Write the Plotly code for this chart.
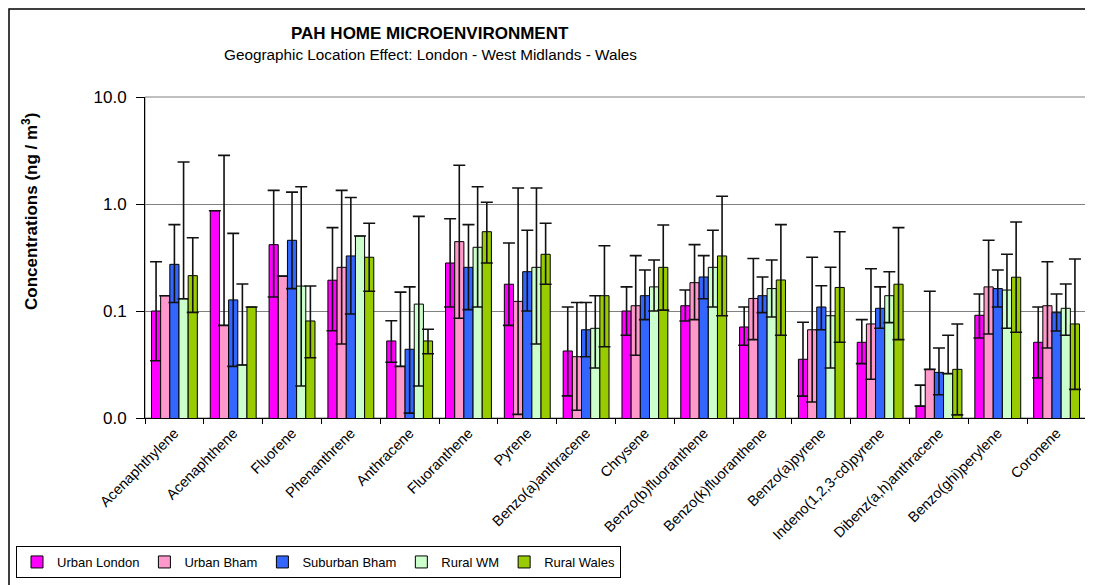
import plotly.graph_objects as go

categories = [
    "Acenaphthylene", "Acenaphthene", "Fluorene", "Phenanthrene", "Anthracene",
    "Fluoranthene", "Pyrene", "Benzo(a)anthracene", "Chrysene",
    "Benzo(b)fluoranthene", "Benzo(k)fluoranthene", "Benzo(a)pyrene",
    "Indeno(1,2,3-cd)pyrene", "Dibenz(a,h)anthracene", "Benzo(ghi)perylene",
    "Coronene",
]

# mean concentrations and the upper/lower ends of the error bars (None = no bar drawn)
urban_london = [0.100, 0.866, 0.417, 0.194, 0.0525, 0.281, 0.178, 0.0423, 0.100, 0.112, 0.0709, 0.0354, 0.051, 0.0129, 0.0912, 0.051]
urban_london_hi = [0.289, None, 1.34, 0.601, 0.0812, 0.729, 0.432, 0.109, 0.168, 0.157, 0.109, 0.0784, 0.083, 0.0203, 0.144, 0.109]
urban_london_lo = [0.0343, None, 0.135, 0.0654, 0.0332, 0.109, 0.0734, 0.0161, 0.0593, 0.0807, 0.0478, 0.016, 0.0322, None, 0.056, 0.0237]

urban_bham = [0.139, 0.0734, 0.212, 0.256, 0.0304, 0.445, 0.123, 0.0374, 0.112, 0.184, 0.131, 0.0668, 0.0757, 0.0285, 0.168, 0.112]
urban_bham_hi = [None, 2.85, None, 1.34, 0.150, 2.30, 1.41, 0.120, 0.329, 0.417, 0.309, 0.318, 0.248, 0.153, 0.458, 0.289]
urban_bham_lo = [None, None, None, 0.0492, None, 0.0855, 0.0108, 0.0118, 0.0386, 0.083, 0.054, 0.0141, 0.023, None, 0.061, 0.0451]

suburban_bham = [0.273, 0.127, 0.458, 0.327, 0.0439, 0.256, 0.233, 0.0668, 0.139, 0.208, 0.139, 0.109, 0.106, 0.0267, 0.162, 0.0965]
suburban_bham_hi = [0.641, 0.532, 1.29, 1.15, 0.168, 0.641, 0.568, 0.120, 0.242, 0.329, 0.208, 0.172, 0.168, 0.0451, 0.242, 0.144]
suburban_bham_lo = [0.120, 0.0304, 0.162, 0.0938, 0.0111, 0.103, 0.100, 0.0374, 0.083, 0.130, 0.0965, 0.0668, 0.0689, 0.0165, 0.109, 0.065]

rural_wm = [0.130, 0.0313, 0.171, 0.502, 0.116, 0.394, 0.256, 0.0689, 0.168, 0.256, 0.162, 0.0903, 0.139, 0.026, 0.157, 0.106]
rural_wm_hi = [2.47, 0.179, 1.45, None, 0.767, 1.45, 1.41, 0.139, 0.300, 0.568, 0.300, 0.256, 0.233, 0.0593, 0.339, 0.179]
rural_wm_lo = [None, None, 0.0199, None, 0.0199, 0.109, 0.0492, 0.0293, 0.100, 0.109, 0.0879, 0.0293, 0.0778, None, 0.0689, 0.0593]

rural_wales = [0.214, 0.109, 0.0807, 0.318, 0.0525, 0.551, 0.339, 0.139, 0.256, 0.327, 0.195, 0.166, 0.178, 0.0285, 0.207, 0.0757]
rural_wales_hi = [0.484, None, 0.171, 0.660, 0.0675, 1.04, 0.660, 0.407, 0.637, 1.18, 0.641, 0.551, 0.601, 0.0757, 0.679, 0.306]
rural_wales_lo = [0.097, None, 0.0366, 0.153, 0.0399, 0.281, 0.178, 0.0464, 0.102, 0.0903, 0.0593, 0.051, 0.054, 0.0107, 0.0633, 0.0185]

series = [
    ("Urban London", urban_london, urban_london_hi, urban_london_lo, "#FF00FF"),
    ("Urban Bham", urban_bham, urban_bham_hi, urban_bham_lo, "#FF99CC"),
    ("Suburban Bham", suburban_bham, suburban_bham_hi, suburban_bham_lo, "#3366FF"),
    ("Rural WM", rural_wm, rural_wm_hi, rural_wm_lo, "#CCFFCC"),
    ("Rural Wales", rural_wales, rural_wales_hi, rural_wales_lo, "#99CC00"),
]

FONT = "Arial, Liberation Sans, sans-serif"
W, H = 1093, 585
PAGE = 8  # default body margin of the html page
L, R, T, B = 145, 1086, 97, 418


def px_x(p):
    return (p - L) / (R - L)


def px_y(p):
    return (B - p) / (B - T)


fig = go.Figure()
for name, vals, hi, lo, color in series:
    up = [(h - v) if h is not None else 0 for v, h in zip(vals, hi)]
    down = [(v - l) if l is not None else 0 for v, l in zip(vals, lo)]
    fig.add_trace(
        go.Bar(
            name=name,
            x=categories,
            y=vals,
            marker=dict(color=color, line=dict(color="black", width=1)),
            error_y=dict(
                type="data", symmetric=False, array=up, arrayminus=down,
                color="#111111", thickness=1.6, width=6,
            ),
        )
    )

fig.update_layout(
    width=W - PAGE,
    height=H - PAGE,
    margin=dict(l=L - PAGE, r=W - R, t=T - PAGE, b=H - B, autoexpand=False),
    paper_bgcolor="white",
    plot_bgcolor="white",
    barmode="group",
    bargap=0.22,
    bargroupgap=0,
    font=dict(family=FONT, color="black"),
    showlegend=True,
    legend=dict(
        orientation="h",
        xref="container", yref="container",
        x=(16 - PAGE) / (W - PAGE), y=1 - (546 - PAGE) / (H - PAGE),
        xanchor="left", yanchor="top",
        bordercolor="black", borderwidth=1,
        font=dict(size=13, family=FONT),
        itemwidth=30,
        traceorder="normal",
    ),
    xaxis=dict(
        showline=True, linecolor="black", linewidth=1,
        ticks="outside", tickson="boundaries", ticklen=5, tickcolor="black",
        tickangle=-45, tickfont=dict(size=14.5, family=FONT),
        showgrid=False,
    ),
    yaxis=dict(
        type="log", range=[-2, 1],
        tickvals=[0.01, 0.1, 1, 10], ticktext=["0.0", "0.1", "1.0", "10.0"],
        showline=True, linecolor="black", linewidth=1,
        ticks="outside", ticklen=8, tickcolor="black",
        ticklabelstandoff=6,
        tickfont=dict(size=17, family=FONT),
        showgrid=True, gridcolor="#808080", gridwidth=1,
    ),
    shapes=[
        dict(type="rect", xref="paper", yref="paper", x0=0, x1=1, y0=0, y1=1,
             line=dict(color="#808080", width=1), layer="below"),
        dict(type="rect", xref="paper", yref="paper",
             x0=px_x(PAGE + 1), x1=px_x(1100), y0=px_y(600), y1=px_y(PAGE + 1),
             line=dict(color="black", width=1.5)),
    ],
    annotations=[
        dict(text="<b>PAH HOME MICROENVIRONMENT</b>", xref="paper", yref="paper",
             x=px_x(430), y=px_y(33), showarrow=False, xanchor="center", yanchor="middle",
             font=dict(size=17, family=FONT)),
        dict(text="Geographic Location Effect: London - West Midlands - Wales",
             xref="paper", yref="paper", x=px_x(430), y=px_y(55), showarrow=False,
             xanchor="center", yanchor="middle", font=dict(size=15.3, family=FONT)),
        dict(text="<b>Concentrations (ng / m<sup>3</sup>)</b>", xref="paper", yref="paper",
             x=px_x(30), y=px_y(212), showarrow=False, textangle=-90,
             xanchor="center", yanchor="middle", font=dict(size=17, family=FONT)),
    ],
)

fig.write_html("out.html")
